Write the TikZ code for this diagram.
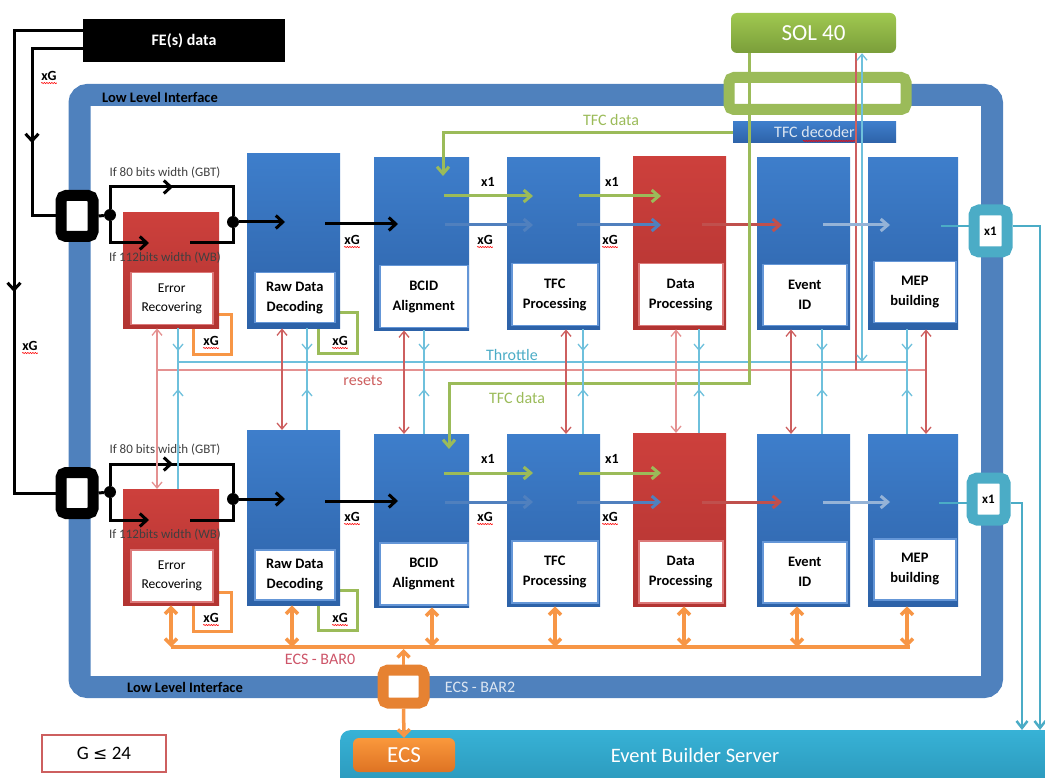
\documentclass[tikz,border=0pt]{standalone}
\usepackage{fontspec}
\setmainfont{Carlito}
\newfontfamily\symf{DejaVu Sans}
\usetikzlibrary{arrows.meta,calc,decorations.pathmorphing}
\definecolor{frameblue}{RGB}{79,129,189}
\definecolor{blktop}{RGB}{62,126,203}
\definecolor{blkbot}{RGB}{45,98,168}
\definecolor{redtop}{RGB}{205,64,60}
\definecolor{redbot}{RGB}{178,52,50}
\definecolor{innerblue}{RGB}{100,150,215}
\definecolor{innerred}{RGB}{220,120,120}
\definecolor{gr}{RGB}{155,187,89}
\definecolor{soltop}{RGB}{160,200,80}
\definecolor{solbot}{RGB}{122,158,58}
\definecolor{orng}{RGB}{247,150,70}
\definecolor{orngd}{RGB}{230,130,50}
\definecolor{ecstop}{RGB}{250,152,60}
\definecolor{ecsbot}{RGB}{222,115,35}
\definecolor{tealc}{RGB}{75,172,198}
\definecolor{lblue}{RGB}{110,192,220}
\definecolor{tred}{RGB}{205,95,95}
\definecolor{pred}{RGB}{228,145,145}
\definecolor{steel}{RGB}{80,128,190}
\definecolor{pale}{RGB}{149,179,215}
\definecolor{redarr}{RGB}{192,80,77}
\definecolor{ebtop}{RGB}{55,178,214}
\definecolor{ebbot}{RGB}{40,145,180}
\definecolor{txtgray}{RGB}{64,64,64}
\definecolor{barzero}{RGB}{205,85,105}
\definecolor{bartwo}{RGB}{220,230,242}

\newcommand\xg[3]{\node[xgl] (#1) at (#2,#3) {xG};
  \draw[squig] ($(#1.base west)+(0,2.5)$) -- ($(#1.base east)+(0,2.5)$);}

\newcommand\drawrow[2]{%
  % small loop boxes behind the blocks
  \draw[orng, line width=3] (193,315+#2) rectangle (231,354+#2);
  \draw[gr, line width=3] (318,313+#2) rectangle (357,353+#2);
  % blocks
  \node[redblk, minimum width=96, minimum height=116] (err#1) at (123,212+#2) {};
  \node[wboxr, minimum width=82, minimum height=52, font=\fontsize{13.5}{19}\selectfont] (errt#1) at (130,272+#2) {Error\\Recovering};
  \node[blueblk, minimum width=93, minimum height=175] (raw#1) at (247,153+#2) {};
  \node[wbox, minimum width=80, minimum height=50] (rawt#1) at (254,272+#2) {Raw Data\\Decoding};
  \node[blueblk, minimum width=95, minimum height=173] (bcid#1) at (374,157+#2) {};
  \node[wbox, minimum width=88, minimum height=62] (bcidt#1) at (379,265+#2) {BCID\\Alignment};
  \node[blueblk, minimum width=93, minimum height=172] (tfc#1) at (507,157+#2) {};
  \node[wbox, minimum width=86, minimum height=62] (tfct#1) at (511,263+#2) {TFC\\Processing};
  \node[redblk, minimum width=93, minimum height=173] (dp#1) at (633,156+#2) {};
  \node[wboxr, minimum width=84, minimum height=62] (dpt#1) at (638,263+#2) {Data\\Processing};
  \node[blueblk, minimum width=93, minimum height=172] (ev#1) at (757,157+#2) {};
  \node[wbox, minimum width=84, minimum height=61] (evt#1) at (762,264+#2) {Event\\ID};
  \node[blueblk, minimum width=90, minimum height=172] (mep#1) at (868,157+#2) {};
  \node[wbox, minimum width=82, minimum height=61] (mept#1) at (873,261+#2) {MEP\\building};
  % input connector and split
  \node[conn, draw=black, minimum width=32, minimum height=41] (con#1) at (77,216+#2) {};
  \node[dot] (da#1) at (110,215+#2) {};
  \node[dot] (db#1) at (233,222+#2) {};
  \draw[blkl] (con#1.east) -- (da#1);
  \draw[blkl] (da#1) |- (233,187+#2) -- (db#1);
  \draw[blkl,tip] (110,187+#2) -- (173,187+#2);
  \draw[blkl,tip] (da#1) |- (149,243+#2);
  \draw[blkl] (190,243+#2) -| (db#1);
  \draw[blkl,tip] (db#1) -- (285,222+#2);
  \draw[blkl,tip] (325,224+#2) -- (398,224+#2);
  % data path arrows
  \draw[grl,tipg] (444,196+#2) -- (533,196+#2);
  \draw[grl,tipg] (579,196+#2) -- (661,196+#2);
  \draw[stl,tipg] (445,225+#2) -- (533,225+#2);
  \draw[stl,tipg] (577,225+#2) -- (661,225+#2);
  \draw[line width=3, redarr, tipg] (702,225+#2) -- (782,225+#2);
  \draw[line width=3, pale, tipg] (823,225+#2) -- (890,225+#2);
  % labels
  \node[gbt] (gbt#1) at (165,173+#2) {If 80 bits width (GBT)};
  \node[gbt] (wb#1) at (165,258+#2) {If 112bits width (WB)};
  \xg{xgo#1}{211}{341+#2}
  \xg{xgg#1}{340}{341+#2}
  \xg{xga#1}{352}{240+#2}
  \xg{xgb#1}{485}{240+#2}
  \xg{xgc#1}{610}{240+#2}
  \node[xgl] (xoa#1) at (488,182+#2) {x1};
  \node[xgl] (xob#1) at (612,182+#2) {x1};
}

\begin{document}
\begin{tikzpicture}[x=1pt,y=-1pt,
  every node/.style={inner sep=0pt},
  blueblk/.style={rectangle, anchor=north west, top color=blktop, bottom color=blkbot},
  redblk/.style={rectangle, anchor=north west, top color=redtop, bottom color=redbot},
  wbox/.style={rectangle, anchor=north west, fill=white, draw=innerblue, line width=1.5, align=center, font=\fontsize{14.5}{20}\selectfont\bfseries},
  wboxr/.style={wbox, draw=innerred},
  conn/.style={rectangle, fill=white, line width=11, rounded corners=5},
  dot/.style={circle, fill=black, minimum size=12},
  blkl/.style={line width=3, black},
  tip/.style={-{Straight Barb[length=7pt,width=13pt]}},
  tipg/.style={-{Straight Barb[length=7pt,width=12pt]}},
  tipthin/.style={-{Straight Barb[length=6pt,width=10pt]}},
  dthin/.style={{Straight Barb[length=6pt,width=10pt]}-{Straight Barb[length=6pt,width=10pt]}},
  dor/.style={{Straight Barb[length=6pt,width=12pt]}-{Straight Barb[length=6pt,width=12pt]}},
  grl/.style={line width=3, gr},
  stl/.style={line width=3, steel},
  orl/.style={line width=3.5, orng},
  thinl/.style={line width=1.3},
  gbt/.style={font=\fontsize{13}{15}\selectfont, text=txtgray},
  xgl/.style={font=\fontsize{14}{16}\selectfont\bfseries},
  lbl16/.style={font=\fontsize{16}{18}\selectfont},
  squig/.style={draw=red, line width=0.6, decorate, decoration={snake, amplitude=0.6pt, segment length=2.5pt}},
]
\useasboundingbox (0,0) rectangle (1045,778);

% Low level interface frame
\draw[frameblue, line width=22, rounded corners=8] (79.5,95) rectangle (992,687);
\node[font=\fontsize{14.5}{16}\selectfont\bfseries] (llitop) at (160,97) {Low Level Interface};
\node[font=\fontsize{14.5}{16}\selectfont\bfseries] (llibot) at (185,687) {Low Level Interface};
\node[lbl16, text=bartwo] (bar2) at (480,687) {ECS - BAR2};

% FE data
\node[fill=black, minimum width=202, minimum height=43, text=white, font=\fontsize{16}{18}\selectfont\bfseries] (fe) at (184,40.5) {FE(s) data};

% SOL40, green connector, TFC decoder
\node[conn, draw=gr, minimum width=177, minimum height=32] (gcon) at (817.5,93.5) {};
\node[top color=blktop, bottom color=blkbot, minimum width=163, minimum height=21, text=bartwo, font=\fontsize{16}{18}\selectfont] (tfcdec) at (814.5,132.5) {TFC decoder};
\draw[squig] (803,141) -- (855,141);
\node[rounded corners=6, top color=soltop, bottom color=solbot, minimum width=165, minimum height=40, text=white, font=\fontsize{23}{26}\selectfont] (sol) at (813.5,33) {SOL 40};

% Throttle and resets buses
\draw[lblue, thinl] (178,362) -- (907,362);
\draw[pred, thinl] (157,370) -- (927,370);
\draw[tred, thinl] (sol.south -| 856,0) -- (856,370);
\draw[lblue, thinl, dthin] (862,362) -- (sol.south -| 862,0);
\node[lbl16, text=tealc] (thr) at (512,355) {Throttle};
\node[lbl16, text=tred] (rst) at (363,380) {resets};

% rows
\drawrow{U}{0}
\drawrow{L}{277}

% TFC data lines
\draw[grl, tipg] (tfcdec.west) -| (443,176);
\draw[grl, tipg] (sol.south -| 749,0) -- (749,383) -| (449,449);
\node[lbl16, text=gr] (tfcd1) at (611,120) {TFC data};
\node[lbl16, text=gr] (tfcd2) at (517,398) {TFC data};

% FE input lines
\draw[blkl,tip] (fe.west |- 0,31) -| (14,292);
\draw[blkl] (14,290) |- (conL.west);
\draw[blkl,tip] (fe.west |- 0,49) -| (32,143);
\draw[blkl] (32,140) |- (conU.west);
\xg{xgin}{49}{76}
\xg{xgout}{30}{346}

% inter-row control lines
\foreach \r/\b/\n/\c in {157/178/err/pred, 282/307/raw/tred, 404/424/bcid/tred, 566/583/tfc/tred, 676/699/dp/pred, 791/822/ev/tred, 926/907/mep/tred}{
  \draw[\c, thinl, dthin] (\n U.south -| \r,0) -- (\n L.north -| \r,0);
  \draw[lblue, thinl, tipthin] (\n U.south -| \b,0) -- (\b,351);
  \draw[lblue, thinl] (\b,349) -- (\b,391);
  \draw[lblue, thinl, tipthin] (\n L.north -| \b,0) -- (\b,389);
}

% Event builder server and ECS
\node[anchor=north west, minimum width=730, minimum height=70, rounded corners=10, top color=ebtop, bottom color=ebbot] (eb) at (340,730) {};
\node[text=white, font=\fontsize{20.5}{24}\selectfont] (ebt) at (695,755) {Event Builder Server};
\node[rounded corners=6, top color=ecstop, bottom color=ecsbot, minimum width=102, minimum height=34, text=white, font=\fontsize{23}{26}\selectfont] (ecs) at (404,755) {ECS};
\node[conn, draw=orngd, minimum width=41, minimum height=33] (ecsc) at (403.5,686.5) {};

% ECS bus
\draw[orl] (171,647) -- (910,647);
\foreach \x/\n in {171/err,292/raw,432/bcid,555/tfc,684/dp,797/ev,907/mep}{
  \draw[orl, dor] (\n L.south -| \x,0) -- (\x,647);
}
\draw[orl, -{Straight Barb[length=6pt,width=12pt]}] (ecsc.north) -- (403.5,649);
\draw[orl, -{Straight Barb[length=6pt,width=12pt]}] (ecsc.south) -- (ecs.north);
\node[lbl16, text=barzero] (bar0) at (320,659) {ECS - BAR0};

% output x1 connectors
\node[conn, draw=tealc, minimum width=33, minimum height=42, font=\fontsize{13}{15}\selectfont\bfseries] (x1U) at (990.5,231) {x1};
\node[conn, draw=tealc, minimum width=33, minimum height=42, font=\fontsize{13}{15}\selectfont\bfseries] (x1L) at (988.5,499) {x1};
\draw[tealc, line width=2.5] (941,226) -- (x1U.west |- 0,226);
\draw[tealc, line width=2.5] (939,503) -- (x1L.west |- 0,503);
\draw[tealc, line width=2.5, -{Straight Barb[length=7pt,width=11pt]}] (x1U.east |- 0,226) -| (eb.north -| 1040,0);
\draw[tealc, line width=2.5, -{Straight Barb[length=7pt,width=11pt]}] (x1L.east |- 0,503) -| (eb.north -| 1022,0);

% G <= 24
\node[draw=tred, line width=1.5, fill=white, minimum width=124, minimum height=37, font=\fontsize{19}{22}\selectfont] (gmax) at (104,753.5) {G {\symf\fontsize{17}{20}\selectfont ≤} 24};
\end{tikzpicture}
\end{document}
